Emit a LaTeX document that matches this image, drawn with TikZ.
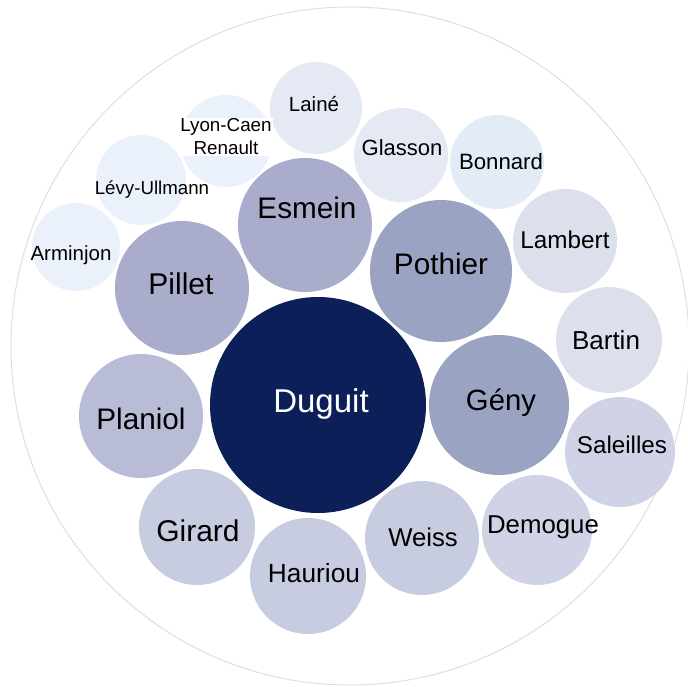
\documentclass[tikz,border=0pt]{standalone}
\usepackage{fontspec}
\setmainfont{Liberation Sans}
\usepackage{tikz}
\usetikzlibrary{positioning}
\usepackage{xcolor}
\definecolor{dugnavy}{RGB}{12,31,88}
\definecolor{tierone}{RGB}{154,164,194}
\definecolor{tiertwo}{RGB}{170,172,204}
\definecolor{tierthree}{RGB}{184,188,214}
\definecolor{tierfour}{RGB}{200,204,224}
\definecolor{tierfive}{RGB}{207,211,229}
\definecolor{tiersix}{RGB}{220,224,237}
\definecolor{tierseven}{RGB}{228,233,243}
\definecolor{bonnardblue}{RGB}{227,236,246}
\definecolor{tiereight}{RGB}{235,241,250}
\definecolor{ringgray}{RGB}{222,222,222}

\begin{document}
\begin{tikzpicture}[x=1pt, y=-1pt,
    bub/.style={circle, draw=none, inner sep=0pt, minimum size=#1},
    lbl/.style={anchor=base, inner sep=0pt, font=\fontsize{#1}{#1}\selectfont}]
\useasboundingbox (0,0) rectangle (688,687);

% Outer ring
\draw[ringgray, line width=1pt] (350,346) circle [radius=339];

% Bubbles
\foreach \name/\x/\y/\r/\col in {
    duguit/318/405/108/dugnavy, geny/499/405/70/tierone, pothier/441/271/71/tierone,
    esmein/305/225/67/tiertwo, pillet/182/288/67/tiertwo, planiol/141/416/62/tierthree,
    girard/197/527/58/tierfour, hauriou/308/576/58/tierfour, weiss/422/538/57/tierfour,
    demogue/537/530/55/tierfive, saleilles/620/452/55/tierfive, bartin/609/340/53/tiersix,
    lambert/565/241/52/tiersix, bonnard/497/162/47/bonnardblue, glasson/401/155/47/tierseven,
    laine/316/108/46/tierseven, lyoncaen/226/141/46/tiereight, levy/141/180/45/tiereight,
    arminjon/76/247/44/tiereight} {
    \node[bub={2*\r pt}, fill=\col] (\name) at (\x,\y) {};
}

% Labels
\node[lbl=33, white] (duguitlbl) at (321,412) {Duguit};
\node[lbl=29.3] (genylbl) at (501,410.5) {Gény};
\node[lbl=29.7] (pothierlbl) at (441,274.6) {Pothier};
\node[lbl=29.7] (esmeinlbl) at (307,218.6) {Esmein};
\node[lbl=30] (pilletlbl) at (181,294.7) {Pillet};
\node[lbl=29.7] (planiollbl) at (141,429.6) {Planiol};
\node[lbl=30] (girardlbl) at (198,541.7) {Girard};
\node[lbl=26.3] (hauriou lbl) at (314,582.4) {Hauriou};
\node[lbl=25.7] (weisslbl) at (423,546.2) {Weiss};
\node[lbl=25.8] (demoguelbl) at (543,533.2) {Demogue};
\node[lbl=24.2] (saleilleslbl) at (622,453.7) {Saleilles};
\node[lbl=26] (bartinlbl) at (606,349.3) {Bartin};
\node[lbl=24.3] (lambertlbl) at (565,248.7) {Lambert};
\node[lbl=22.2] (bonnardlbl) at (501,170) {Bonnard};
\node[lbl=22] (glassonlbl) at (402,155.9) {Glasson};
\node[lbl=20.5] (lainelbl) at (314,111.2) {Lainé};
\node[fill=white, inner sep=1pt, align=center, font=\fontsize{18.8}{23}\selectfont]
    (lyoncaenlbl) at (226,137) {Lyon-Caen\\Renault};
\node[lbl=18.7] (levylbl) at (152,194.7) {Lévy-Ullmann};
\node[lbl=20.5] (arminjonlbl) at (71,260.3) {Arminjon};
\end{tikzpicture}
\end{document}
